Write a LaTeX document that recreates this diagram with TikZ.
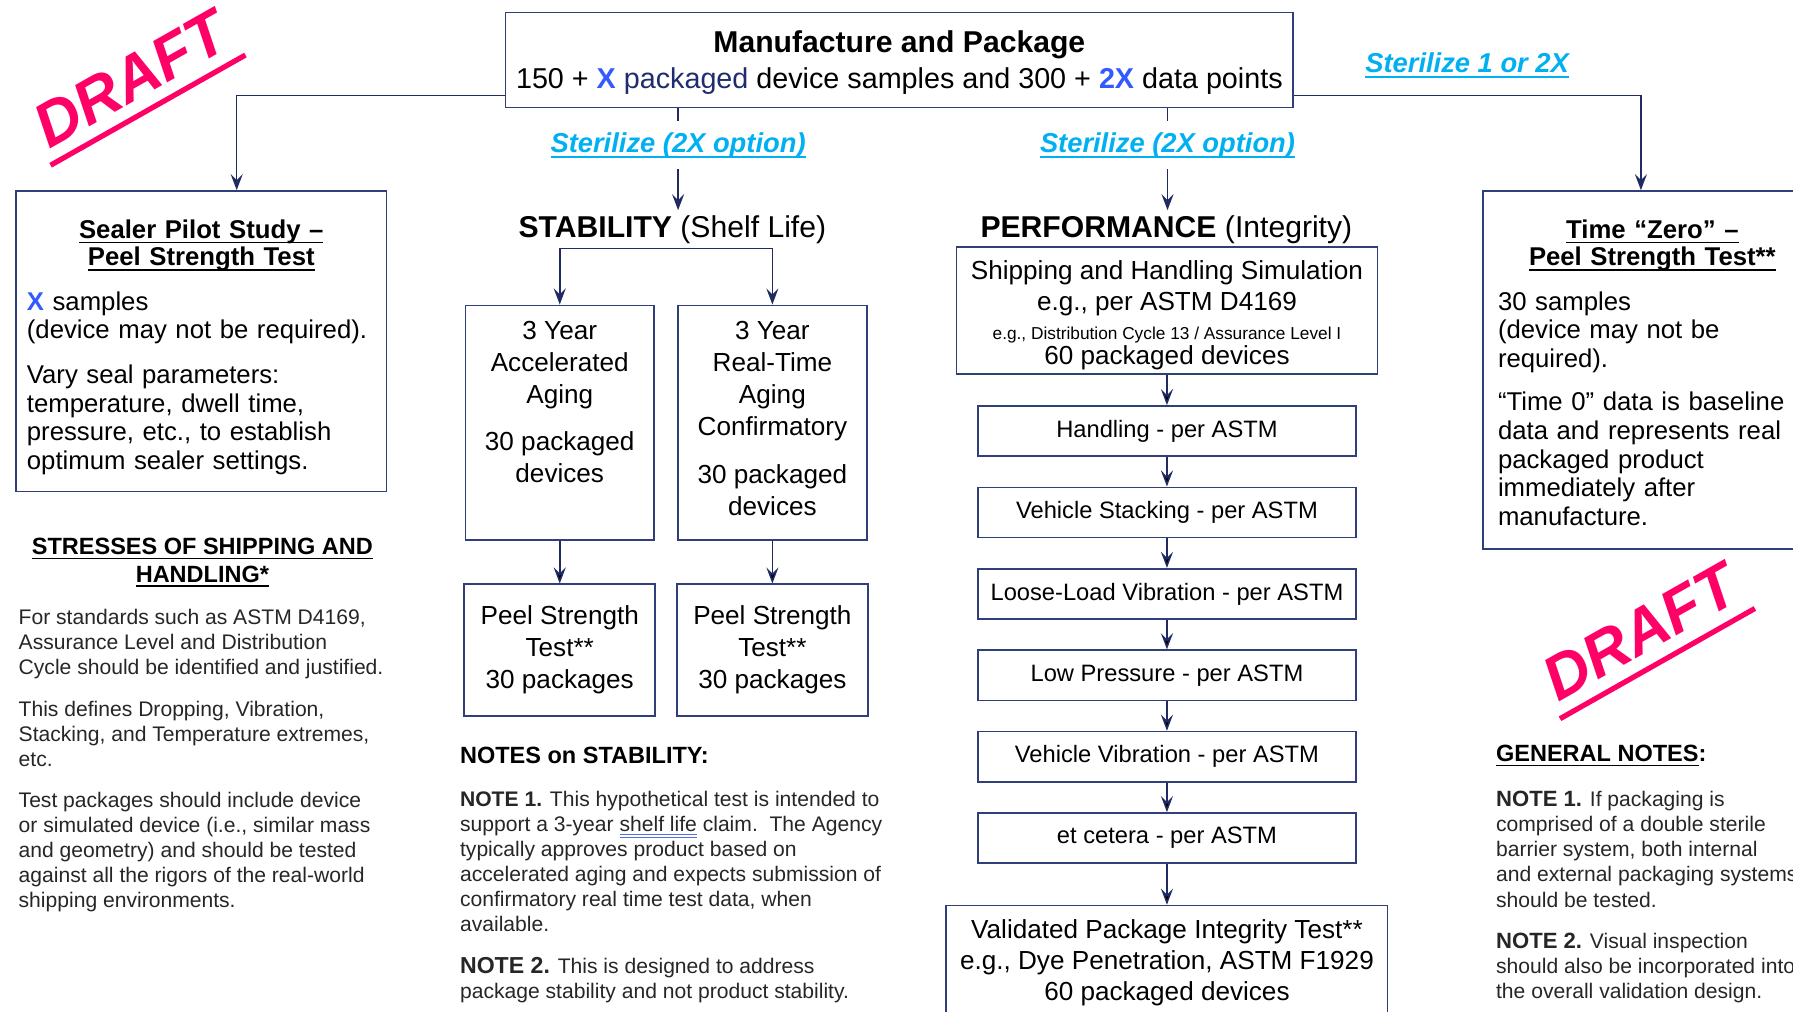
\documentclass[tikz,border=0pt]{standalone}
\usepackage{fontspec}
\setmainfont{Liberation Sans}
\usetikzlibrary{positioning,arrows.meta,calc}

\definecolor{navy}{RGB}{31,43,98}
\definecolor{boxline}{RGB}{48,62,122}
\definecolor{xblue}{RGB}{51,90,255}
\definecolor{pkgnavy}{RGB}{31,45,110}
\definecolor{sterblue}{RGB}{0,176,240}
\definecolor{draftpink}{RGB}{255,0,102}
\definecolor{markblue}{RGB}{80,110,220}

% underline like the word processor draws it
\newcommand{\wordul}[1]{\setbox0\hbox{#1}\rlap{\rule[-0.2em]{\wd0}{0.07em}}\box0}
\newcommand{\gramul}[1]{\setbox0\hbox{#1}\rlap{\textcolor{markblue}{\rule[-0.17em]{\wd0}{0.35pt}}}\rlap{\textcolor{markblue}{\rule[-0.3em]{\wd0}{0.35pt}}}\box0}
\newcommand{\boxtitle}[1]{\leavevmode\hbox to\hsize{\hss\bfseries\wordul{#1}\hss}}

\tikzstyle{boxbase} = [
draw=boxline,
line width=0.8pt,
align=center
]
\tikzstyle{topbox} = [
boxbase,
minimum width=13.78cm,
minimum height=1.66cm,
font=\fontsize{14.3}{17.6}\selectfont
]
\tikzstyle{sidebox} = [
boxbase,
align=left,
font=\fontsize{12.8}{14.2}\selectfont
]
\tikzstyle{agebox} = [
boxbase,
minimum width=3.3cm,
minimum height=4.1cm,
font=\fontsize{13}{15.9}\selectfont
]
\tikzstyle{peelbox} = [
boxbase,
minimum width=3.34cm,
minimum height=2.3cm,
font=\fontsize{13}{15.9}\selectfont
]
\tikzstyle{shipbox} = [
boxbase,
inner ysep=0pt,
minimum width=7.36cm,
minimum height=2.22cm,
font=\fontsize{13}{15.9}\selectfont
]
\tikzstyle{stepbox} = [
boxbase,
minimum width=6.62cm,
minimum height=0.88cm,
font=\fontsize{11.8}{14}\selectfont
]
\tikzstyle{vpitbox} = [
boxbase,
minimum width=7.72cm,
minimum height=2cm,
font=\fontsize{13}{15.6}\selectfont
]
\tikzstyle{heading} = [
inner sep=2.3pt,
font=\fontsize{15}{18}\selectfont
]
\tikzstyle{sterlbl} = [
inner sep=5.5pt,
text=sterblue,
font=\fontsize{13.6}{16}\selectfont\bfseries\itshape
]
\tikzstyle{subhead} = [
inner sep=0pt,
align=center,
font=\fontsize{11.7}{13.7}\selectfont\bfseries
]
\tikzstyle{notes} = [
inner sep=0pt,
align=left,
text=black!85,
font=\fontsize{10.5}{12.5}\selectfont
]
\tikzstyle{draft} = [
rotate=29.5,
text=draftpink,
inner xsep=3pt,
inner ysep=7pt,
font=\fontsize{31}{34}\selectfont\bfseries\itshape
]
\tikzstyle{draftline} = [
draw=draftpink,
line width=2.6pt
]
\tikzstyle{link} = [
draw=navy,
line width=0.75pt
]
\tikzstyle{arr} = [
link,
-{Stealth[length=8pt,width=6pt,inset=3pt]}
]

\begin{document}
\begin{tikzpicture}[
	x=0.02cm,
	y=-0.02cm,
	node distance=1.424cm
	]
	\path[use as bounding box] (0,0) rectangle (1568,885);
	\clip (0,0) rectangle (1568,885);

	\node[topbox] (manuf) at (786.5,52.5) {\rule{0pt}{13.5pt}{\fontsize{15}{17.6}\selectfont\bfseries Manufacture and Package}\\150 + \textcolor{xblue}{\textbf{X}} \textcolor{pkgnavy}{packaged} device samples and 300 + \textcolor{xblue}{\textbf{2X}} data points};

	\node[sterlbl] (ster1) at (593,127) {\wordul{Sterilize (2X option)}};
	\node[sterlbl] (ster2) at (1021,127) {\wordul{Sterilize (2X option)}};
	\node[sterlbl] (ster3) at (1283,57) {\wordul{Sterilize 1 or 2X}};

	\node[heading] (stab) at (588,200.5) {\textbf{STABILITY} (Shelf Life)};
	\node[heading] (perf) at (1020,200.5) {\textbf{PERFORMANCE} (Integrity)};

	\node[sidebox, minimum width=6.48cm, minimum height=5.26cm, text width=6.1cm] (sealer) at (176,298.5) {\boxtitle{\rule{0pt}{15pt}Sealer Pilot Study –}\\[-0.5pt]\boxtitle{Peel Strength Test}\\[8pt]\textcolor{xblue}{\textbf{X}} samples\\(device may not be required).\\[8pt]Vary seal parameters:\\temperature, dwell time,\\pressure, etc., to establish\\optimum sealer settings.};

	\node[sidebox, minimum width=5.92cm, minimum height=6.26cm, text width=5.4cm] (tzero) at (1445,323.5) {\boxtitle{\rule{0pt}{11.8pt}Time “Zero” –}\\[-0.5pt]\boxtitle{Peel Strength Test**}\\[8pt]30 samples\\(device may not be\\required).\\[7.5pt]“Time 0” data is baseline\\data and represents real\\packaged product\\immediately after\\manufacture.};

	% stability branch
	\node[agebox] (agea) at (489.5,369.5) {3 Year\\Accelerated\\Aging\\[7.5pt]30 packaged\\devices\\[4.5pt]~};
	\node[agebox, node distance=3.72cm, right of=agea] (ager) {3 Year\\Real-Time\\Aging\\Confirmatory\\[8pt]30 packaged\\devices\\[-11.4pt]~};
	\node[peelbox, node distance=3.98cm, below of=agea] (peela) {Peel Strength\\Test**\\30 packages};
	\node[peelbox, node distance=3.98cm, below of=ager] (peelr) {Peel Strength\\Test**\\30 packages};

	% performance branch
	\node[shipbox] (ship) at (1020.5,271.5) {\rule{0pt}{14pt}Shipping and Handling Simulation\\e.g., per ASTM D4169\\[-1.7pt]{\fontsize{8.6}{10}\selectfont e.g., Distribution Cycle 13 / Assurance Level I}\\[-3.4pt]60 packaged devices};
	\node[stepbox, node distance=2.11cm, below of=ship] (hand) {Handling - per ASTM};
	\node[stepbox, below of=hand] (stack) {Vehicle Stacking - per ASTM};
	\node[stepbox, below of=stack] (loose) {Loose-Load Vibration - per ASTM};
	\node[stepbox, below of=loose] (lowp) {Low Pressure - per ASTM};
	\node[stepbox, below of=lowp] (vvib) {Vehicle Vibration - per ASTM};
	\node[stepbox, below of=vvib] (etc) {et cetera - per ASTM};
	\node[vpitbox, node distance=2.18cm, below of=etc] (vpit) {Validated Package Integrity Test**\\e.g., Dye Penetration, ASTM F1929\\60 packaged devices};

	% notes
	\node[subhead] (stresshd) at (177,492) {\wordul{STRESSES OF SHIPPING AND}\\\wordul{HANDLING*}};
	\node[notes, anchor=north west] (stressnt) at (16,532.5) {For standards such as ASTM D4169,\\Assurance Level and Distribution\\Cycle should be identified and justified.\\[8pt]This defines Dropping, Vibration,\\Stacking, and Temperature extremes,\\etc.\\[8pt]Test packages should include device\\or simulated device (i.e., similar mass\\and geometry) and should be tested\\against all the rigors of the real-world\\shipping environments.};

	\node[subhead, anchor=west] (stabhd) at (402,661) {NOTES on STABILITY:};
	\node[notes, anchor=north west] (stabnt) at (402,691.5) {\textbf{NOTE 1.} This hypothetical test is intended to\\support a 3-year \gramul{shelf life}\ claim.\ \ The Agency\\typically approves product based on\\accelerated aging and expects submission of\\confirmatory real time test data, when\\available.\\[8pt]{\fontsize{11.5}{12.5}\selectfont\bfseries NOTE 2.} This is designed to address\\package stability and not product stability.};

	\node[subhead, anchor=west] (genhd) at (1308,661) {\wordul{GENERAL NOTES}:};
	\node[notes, anchor=north west] (gennt) at (1308,691.5) {{\fontsize{11}{12.5}\selectfont\bfseries NOTE 1.} If packaging is\\comprised of a double sterile\\barrier system, both internal\\and external packaging systems\\should be tested.\\[8pt]{\fontsize{11}{12.5}\selectfont\bfseries NOTE 2.} Visual inspection\\should also be incorporated into\\the overall validation design.};

	% draft marks
	\node[draft] (draftA) at (114,69) {DRAFT};
	\draw[draftline] (draftA.south west) -- (draftA.south east);
	\node[draft] (draftB) at (1434,553) {DRAFT};
	\draw[draftline] (draftB.south west) -- (draftB.south east);

	% connectors
	\draw[arr] ([yshift=0.22cm]manuf.south west) -| ([xshift=0.62cm]sealer.north);
	\draw[arr] ([yshift=0.22cm]manuf.south east) -| ([xshift=-0.2cm]tzero.north);
	\draw[link] (manuf.south -| ster1.north) -- (ster1.north);
	\draw[link] (manuf.south -| ster2.north) -- (ster2.north);
	\draw[arr] (ster1.south) -- (ster1.south |- stab.north);
	\draw[arr] (ster2.south) -- (ster2.south |- perf.north);
	\draw[link] (agea.north |- stab.south) -- (ager.north |- stab.south);
	\draw[arr] (agea.north |- stab.south) -- (agea.north);
	\draw[arr] (ager.north |- stab.south) -- (ager.north);
	\path[arr] (agea) edge (peela);
	\path[arr] (ager) edge (peelr);
	\path[arr] (ship) edge (hand);
	\path[arr] (hand) edge (stack);
	\path[arr] (stack) edge (loose);
	\path[arr] (loose) edge (lowp);
	\path[arr] (lowp) edge (vvib);
	\path[arr] (vvib) edge (etc);
	\path[arr] (etc) edge (vpit);
\end{tikzpicture}
\end{document}
